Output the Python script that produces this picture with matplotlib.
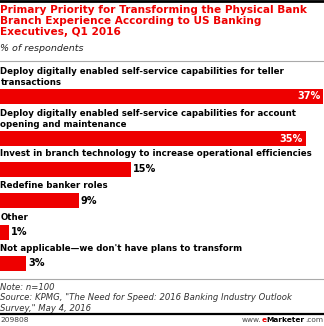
import matplotlib
matplotlib.use("Agg")
import matplotlib.pyplot as plt

labels = [
    "Deploy digitally enabled self-service capabilities for teller\ntransactions",
    "Deploy digitally enabled self-service capabilities for account\nopening and maintenance",
    "Invest in branch technology to increase operational efficiencies",
    "Redefine banker roles",
    "Other",
    "Not applicable\u2014we don't have plans to transform",
]
values = [37, 35, 15, 9, 1, 3]

RED = "#ee0000"
W, H = 324, 326

fig = plt.figure(figsize=(W / 100, H / 100), dpi=100)
ax = fig.add_axes([0, 0, 1, 1])
ax.set_xlim(0, 37 * W / 323)
ax.set_ylim(H, 0)
ax.axis("off")

# vertical layout in pixels
bar_y = [96, 138.5, 169.5, 200.5, 232, 263]
label_y = [67, 109, 149, 181, 213, 244]

ax.barh(bar_y, values, height=15, color=RED, linewidth=0)
for v, y, lab, ly in zip(values, bar_y, labels, label_y):
    if v > 30:
        ax.text(v - 0.3, y, f"{v}%", color="white", fontweight="bold",
                fontsize=7, ha="right", va="center")
    else:
        ax.text(v + 0.25, y, f"{v}%", color="black", fontweight="bold",
                fontsize=7, ha="left", va="center")
    ax.text(0.05, ly, lab, fontweight="bold", fontsize=6.25, ha="left",
            va="top", linespacing=1.25)

# title block
ax.axhline(1, color="black", lw=2)
ax.text(0.05, 5, "Primary Priority for Transforming the Physical Bank\n"
        "Branch Experience According to US Banking\nExecutives, Q1 2016",
        color=RED, fontweight="bold", fontsize=7.55, va="top", linespacing=1.1)
ax.text(0.05, 44, "% of respondents", fontstyle="italic", fontsize=6.8,
        va="top", color="#222222")
ax.axhline(61, color="#aaaaaa", lw=0.8)

# footer
ax.axhline(279, color="#aaaaaa", lw=0.8)
ax.text(0.05, 282.5, "Note: n=100\nSource: KPMG, \"The Need for Speed: 2016 Banking Industry Outlook\n"
        "Survey,\" May 4, 2016", fontstyle="italic", fontsize=6.1, va="top",
        color="#333333", linespacing=1.28)
ax.axhline(314, color="black", lw=1.6)
ax.text(0.05, 320.5, "209808", fontsize=5.4, va="center", color="#444444")

# eMarketer logo text, built right to left
fy = 1 - 320.5 / H
fs = 5.3
t = fig.text(323 / W, fy, ".com", fontsize=fs, va="center", ha="right",
             color="#444444")
fig.canvas.draw()
r = fig.canvas.get_renderer()
bb = t.get_window_extent(r)
t2 = fig.text(bb.x0 / W, fy, "Marketer", fontsize=fs, fontweight="bold",
              va="center", ha="right", color="black")
bb = t2.get_window_extent(r)
t3 = fig.text(bb.x0 / W, fy, "e", fontsize=fs, fontweight="bold",
              va="center", ha="right", color=RED)
bb = t3.get_window_extent(r)
fig.text(bb.x0 / W, fy, "www.", fontsize=fs, va="center", ha="right",
         color="#444444")

fig.savefig("out.png", dpi=100)
